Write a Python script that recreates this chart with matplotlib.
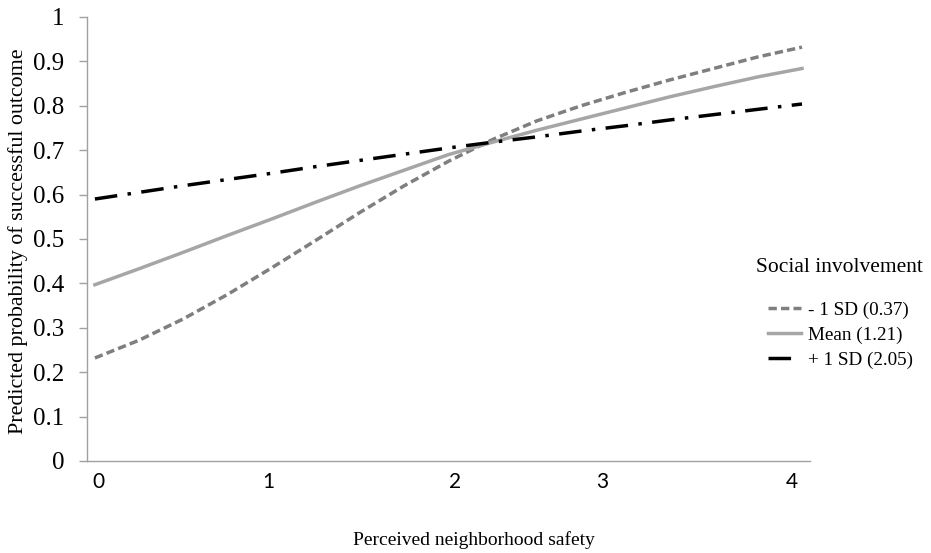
import numpy as np
import matplotlib
matplotlib.use('Agg')
import matplotlib.pyplot as plt

# perceived neighborhood safety (x) and predicted probabilities
safety = [0, 0.25, 0.5, 0.75, 1, 1.25, 1.5, 1.75, 2, 2.25, 2.5, 2.75, 3, 3.25, 3.5, 3.75, 4]
low_sd = [0.232, 0.272, 0.32, 0.375, 0.435, 0.497, 0.56, 0.62, 0.675, 0.724, 0.766, 0.80, 0.83, 0.858, 0.884, 0.91, 0.932]
mean_si = [0.397, 0.433, 0.47, 0.508, 0.545, 0.583, 0.62, 0.655, 0.69, 0.718, 0.745, 0.77, 0.795, 0.82, 0.843, 0.865, 0.884]
high_sd = [0.59, 0.605, 0.62, 0.634, 0.648, 0.663, 0.677, 0.691, 0.705, 0.718, 0.73, 0.743, 0.755, 0.768, 0.78, 0.792, 0.804]

labels = ['- 1 SD (0.37)', 'Mean (1.21)', '+ 1 SD (2.05)']
xtick_labels = ['0', '1', '2', '3', '4']
xtick_pos = [0.02, 0.98, 2.04, 2.87, 3.94]   # where the labels sit in the original figure
yticks = [0, 0.1, 0.2, 0.3, 0.4, 0.5, 0.6, 0.7, 0.8, 0.9, 1]
ytick_labels = ['0', '0.1', '0.2', '0.3', '0.4', '0.5', '0.6', '0.7', '0.8', '0.9', '1']

serif = 'Liberation Serif'

fig = plt.figure(figsize=(9.31, 5.53), dpi=100)
ax = fig.add_axes([0.0934, 0.1664, 0.7766, 0.8029])

ax.plot(safety, low_sd, color='#7f7f7f', lw=2.5, dashes=(2.4, 1.2), label=labels[0])
ax.plot(safety, mean_si, color='#a6a6a6', lw=2.5, label=labels[1])
ax.plot(safety, high_sd, color='black', lw=2.5, dashes=(6.5, 3, 1, 3), label=labels[2])

ax.set_xlim(-0.045, 4.045)
ax.set_ylim(0, 1)
ax.set_xticks(xtick_pos)
ax.set_xticklabels(xtick_labels, family='Lato', fontsize=15)
ax.set_yticks(yticks)
ax.set_yticklabels(ytick_labels, family=serif, fontsize=18)
ax.tick_params(axis='x', length=0, pad=8)
ax.tick_params(axis='y', length=6, width=1, color='#a0a0a0', pad=10.5)

for s in ['top', 'right']:
    ax.spines[s].set_visible(False)
for s in ['left', 'bottom']:
    ax.spines[s].set_color('#a0a0a0')
    ax.spines[s].set_linewidth(1)

fig.text(0.0195, 0.564, 'Predicted probability of successful outcome', family=serif, fontsize=15.8,
         rotation=90, ha='center', va='center')
fig.text(0.509, 0.024, 'Perceived neighborhood safety', family=serif, fontsize=14, ha='center', va='center')

fig.text(756 / 931, 1 - 268 / 553, 'Social involvement', family=serif, fontsize=15.5, ha='left', va='center')
leg = ax.legend(loc='center left', bbox_to_anchor=(768 / 931, 1 - 335 / 553), bbox_transform=fig.transFigure,
                frameon=False, prop={'family': serif, 'size': 13.8}, handlelength=1.7,
                handletextpad=0.4, labelspacing=0.4, borderaxespad=0, borderpad=0)

fig.savefig('out.png', dpi=100)
